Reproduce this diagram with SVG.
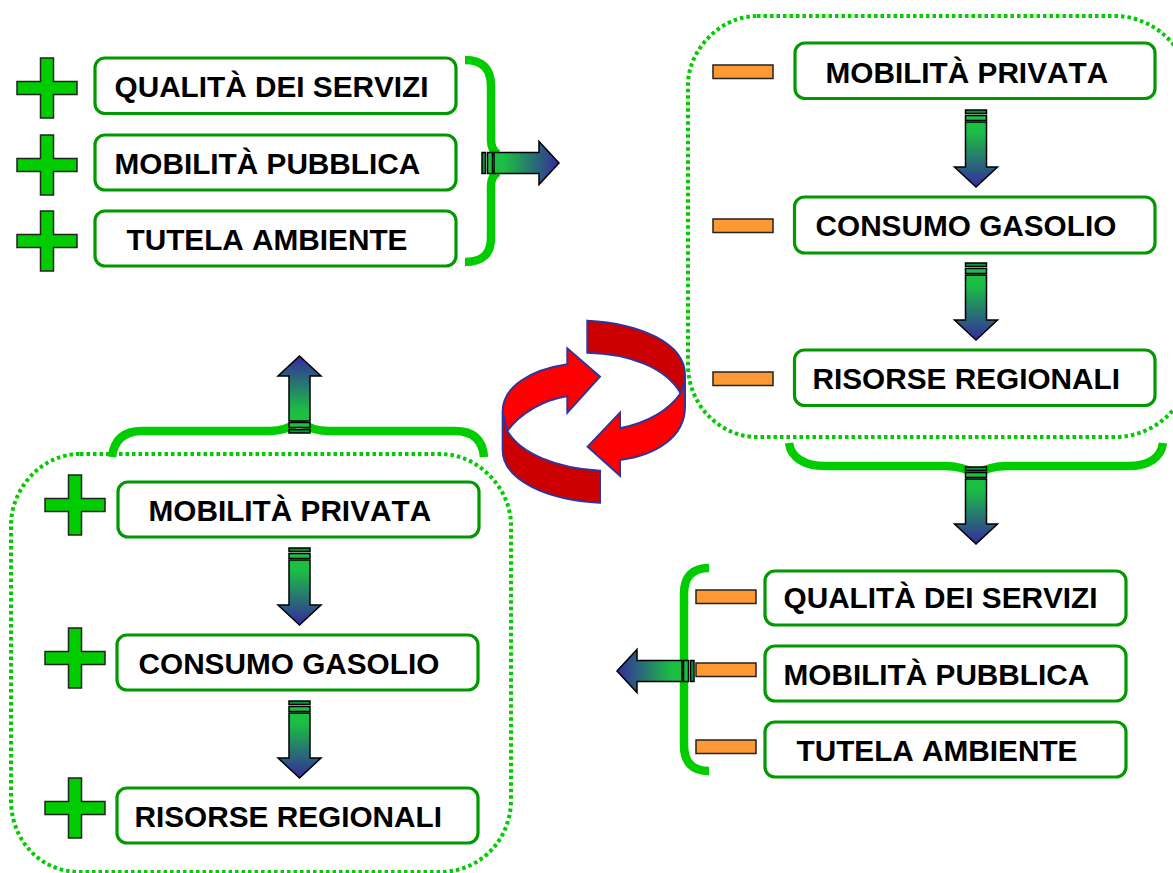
<svg xmlns="http://www.w3.org/2000/svg" width="1173" height="873" viewBox="0 0 1173 873">
<style>
.box{fill:#fff;stroke:#009900;stroke-width:3.2}
.lbl{font-family:"Liberation Sans",Arial,sans-serif;font-weight:700;font-size:29.75px;font-kerning:none;fill:#000}
.dot{fill:none;stroke:#00cc00;stroke-width:4;stroke-dasharray:3.5 3}
.brace{fill:none;stroke:#00cc00;stroke-width:8.5}
.plus{fill:#00cc00;stroke:#222;stroke-width:1.5}
.minus{fill:#ff9933;stroke:#222;stroke-width:1.5}
.ar{stroke:#000;stroke-width:1.5}
.dk{fill:#cc0000;stroke:#333399;stroke-width:6}
.br{fill:#ff0000;stroke:#333399;stroke-width:6}
</style>
<defs>
<linearGradient id="g" x1="0" y1="0" x2="0" y2="1"><stop offset="0.15" stop-color="#1bbf44"/><stop offset="0.95" stop-color="#333399"/></linearGradient>
<g id="arrow">
<rect class="ar" x="-10.500" y="0" width="21" height="3.5" fill="#009933"/>
<rect class="ar" x="-10.500" y="5.5" width="21" height="5" fill="#1bbf44"/>
<path class="ar" fill="url(#g)" d="M-10.500 12H10.500V57H21.500L0 77L-21.500 57H-10.500Z"/>
</g>
<path id="plus" class="plus" d="M-6.500 -30H6.500V-6.500H30V6.500H6.500V30H-6.500V6.500H-30V-6.500H-6.500Z"/>
<rect id="minus" class="minus" x="0" y="0" width="60" height="13.5"/>
</defs>

<g id="connectors">
<path class="dot" d="M757 16H1115C1155 16 1190 50 1190 90V365C1190 405 1155 437 1115 437H757C720 437 688 405 688 365V85C688 50 720 16 757 16Z"/>
<path class="dot" d="M80 454H440C480 454 511 490 511 525V800C511 840 480 872 440 872H80C40 872 11 840 11 800V525C11 490 40 454 80 454Z"/>
<path class="brace" d="M465 60Q491 60 491 86V140Q491 150 498 154M498 172Q491 176 491 186V238Q491 262 465 262"/>
<path class="brace" d="M112 457Q115 431 142 431H270Q285 431 299 422Q313 431 328 431H455Q482 431 484 457"/>
<path class="brace" d="M789 443C791 458 805 466 825 466H945Q962 466 976 474Q990 466 1007 466H1128C1148 466 1161 458 1163 443"/>
<path class="brace" d="M709 568Q684 568 684 594V745Q684 771 709 771"/>
<use href="#arrow" transform="translate(976 110)"/>
<use href="#arrow" transform="translate(976 263)"/>
<use href="#arrow" transform="translate(976 467)"/>
<use href="#arrow" transform="translate(299.500 548)"/>
<use href="#arrow" transform="translate(299.500 701)"/>
<use href="#arrow" transform="translate(299.500 433) rotate(180)"/>
<use href="#arrow" transform="translate(482 163) rotate(-90)"/>
<use href="#arrow" transform="translate(694 671) rotate(90)"/>
</g>

<g id="cycle" transform="translate(470 300) scale(.3333)">
<path class="dk" d="M352 62C510 70 645 130 645 225V325L632 280C590 205 480 160 352 158Z"/>
<path class="br" d="M450 480C560 465 645 410 645 320V240L632 280C590 340 520 370 450 385V338L353 440L450 527Z"/>
<path class="dk" d="M98 335V450C98 540 230 600 390 608V512C260 505 150 460 112 393Z"/>
<path class="br" d="M112 393C150 340 220 300 292 288V338L390 230L292 145V193C180 210 98 260 98 335Z"/>
</g>

<g id="n-tl1"><use href="#plus" transform="translate(47 88)"/><rect class="box" x="95" y="58" width="361" height="55.500" rx="10"/><text class="lbl" x="114.500" y="97">QUALITÀ DEI SERVIZI</text></g>
<g id="n-tl2"><use href="#plus" transform="translate(47 165)"/><rect class="box" x="95" y="135" width="361" height="55" rx="10"/><text class="lbl" x="114.500" y="174">MOBILITÀ PUBBLICA</text></g>
<g id="n-tl3"><use href="#plus" transform="translate(47 241)"/><rect class="box" x="95" y="211" width="361" height="55" rx="10"/><text class="lbl" x="126.500" y="250">TUTELA AMBIENTE</text></g>

<g id="n-tr1"><use href="#minus" transform="translate(713 65)"/><rect class="box" x="795" y="43" width="360" height="55.500" rx="10"/><text class="lbl" x="825.500" y="83">MOBILITÀ PRIVATA</text></g>
<g id="n-tr2"><use href="#minus" transform="translate(713 219)"/><rect class="box" x="794.500" y="197" width="360.500" height="56" rx="10"/><text class="lbl" x="815.500" y="236">CONSUMO GASOLIO</text></g>
<g id="n-tr3"><use href="#minus" transform="translate(713 372)"/><rect class="box" x="794.500" y="350" width="360.500" height="55.500" rx="10"/><text class="lbl" x="812.500" y="389">RISORSE REGIONALI</text></g>

<g id="n-br1"><use href="#minus" transform="translate(696 590)"/><rect class="box" x="765" y="571" width="361" height="54" rx="10"/><text class="lbl" x="783.500" y="608">QUALITÀ DEI SERVIZI</text></g>
<g id="n-br2"><use href="#minus" transform="translate(696 663)"/><rect class="box" x="765" y="646" width="361" height="55" rx="10"/><text class="lbl" x="783.500" y="685">MOBILITÀ PUBBLICA</text></g>
<g id="n-br3"><use href="#minus" transform="translate(696 740)"/><rect class="box" x="765" y="722" width="361" height="55" rx="10"/><text class="lbl" x="796.500" y="761">TUTELA AMBIENTE</text></g>

<g id="n-bl1"><use href="#plus" transform="translate(75 505)"/><rect class="box" x="118" y="482" width="361" height="55" rx="10"/><text class="lbl" x="148.500" y="521">MOBILITÀ PRIVATA</text></g>
<g id="n-bl2"><use href="#plus" transform="translate(75 658)"/><rect class="box" x="117" y="635" width="361" height="55" rx="10"/><text class="lbl" x="138.500" y="674">CONSUMO GASOLIO</text></g>
<g id="n-bl3"><use href="#plus" transform="translate(75 808)"/><rect class="box" x="117" y="788" width="361" height="55" rx="10"/><text class="lbl" x="134.500" y="827">RISORSE REGIONALI</text></g>
</svg>
